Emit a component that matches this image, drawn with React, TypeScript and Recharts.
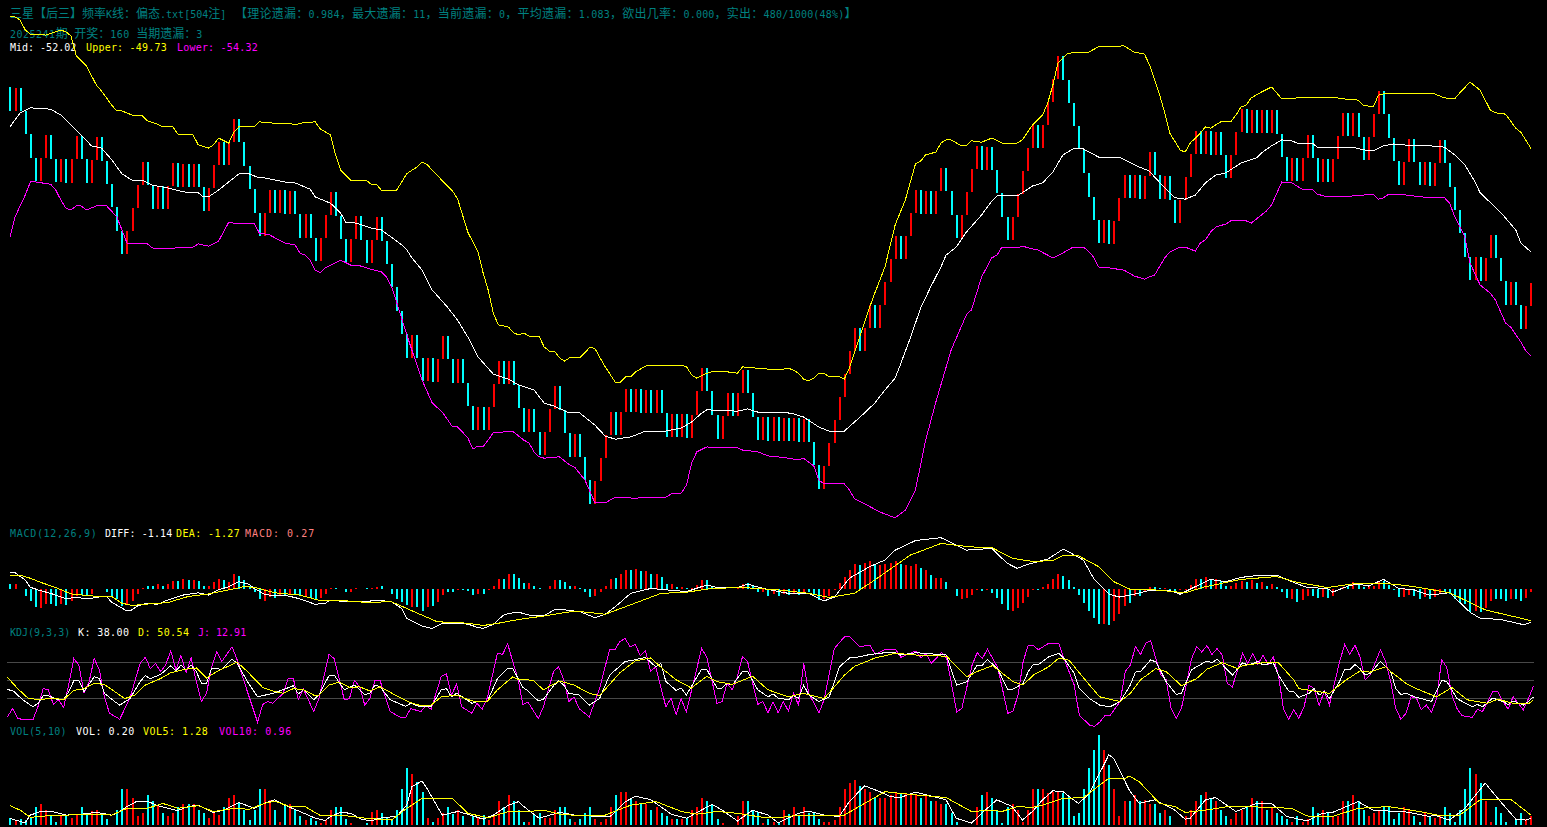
import React from "react";
import { ComposedChart, Bar, Line, Cell, XAxis, YAxis } from "recharts";

type Knot = [number, number];

const firstOpen = -48.37;
const closes = [
-48.89,-48.39,-48.89,-49.42,-49.93,-50.45,-49.95,-49.43,-49.96,-50.47,-49.96,-50.49,-49.96,-49.45,-49.97,-50.49,-49.98,-49.48,-50.01,-50.51,
-51.02,-51.55,-52.06,-51.55,-51.05,-50.54,-50.03,-50.54,-51.07,-50.56,-51.07,-50.56,-50.05,-50.58,-50.07,-50.58,-50.07,-50.58,-51.11,-50.60,
-50.09,-49.59,-50.09,-49.59,-49.08,-49.59,-50.12,-50.63,-51.16,-51.67,-51.16,-50.65,-51.16,-50.65,-51.18,-50.67,-51.18,-51.71,-51.18,-51.71,
-52.22,-51.71,-51.20,-50.69,-51.22,-51.73,-52.24,-51.73,-51.22,-51.75,-52.26,-51.75,-51.24,-51.78,-52.28,-52.79,-53.32,-53.83,-54.36,-53.85,
-54.36,-54.87,-54.36,-54.90,-54.39,-53.88,-54.39,-54.92,-54.39,-54.92,-55.43,-55.96,-55.45,-55.96,-55.45,-54.94,-54.43,-54.94,-54.43,-54.96,
-55.47,-56.00,-55.49,-56.00,-56.51,-56.00,-55.49,-54.98,-55.51,-56.02,-56.55,-56.05,-56.55,-57.06,-57.59,-57.08,-56.58,-56.07,-55.56,-56.07,
-55.56,-55.05,-55.56,-55.05,-55.58,-55.07,-55.58,-55.07,-55.58,-56.11,-55.60,-56.11,-55.60,-56.13,-55.62,-55.09,-54.59,-55.09,-55.62,-56.16,
-55.65,-55.14,-55.65,-55.14,-54.63,-55.14,-55.67,-56.18,-55.67,-56.20,-55.67,-56.20,-55.69,-56.20,-55.69,-56.22,-55.71,-56.22,-56.73,-57.26,
-56.75,-56.24,-55.74,-55.23,-54.72,-54.21,-53.70,-54.21,-53.70,-53.19,-53.70,-53.19,-52.68,-52.17,-51.67,-52.17,-51.67,-51.16,-50.65,-51.18,
-50.67,-51.18,-50.67,-50.16,-50.67,-51.20,-51.71,-51.20,-50.69,-50.18,-49.67,-50.21,-49.70,-50.21,-50.71,-51.24,-51.75,-51.24,-50.74,-50.23,
-49.72,-49.21,-49.72,-49.21,-48.70,-48.19,-47.68,-48.21,-48.72,-49.23,-49.74,-50.27,-50.80,-51.31,-51.82,-51.31,-51.84,-51.33,-50.82,-50.32,
-50.82,-50.32,-50.85,-50.34,-49.81,-50.32,-50.85,-50.34,-50.87,-51.38,-50.87,-50.36,-49.85,-49.34,-49.85,-49.34,-49.87,-49.37,-49.87,-50.38,
-49.87,-49.37,-48.86,-49.39,-48.88,-49.39,-48.88,-49.39,-48.88,-49.41,-49.92,-50.45,-49.94,-50.45,-49.94,-49.43,-49.94,-50.47,-49.96,-50.47,
-49.96,-49.45,-48.94,-49.45,-48.94,-49.48,-49.98,-49.48,-48.97,-48.46,-48.97,-49.50,-50.01,-50.54,-50.03,-49.52,-50.03,-50.54,-50.03,-50.56,
-50.05,-49.54,-50.05,-50.58,-51.09,-51.60,-52.13,-52.64,-52.13,-52.66,-52.15,-51.64,-52.15,-52.66,-53.19,-52.68,-53.19,-53.72,-53.21,-52.71,
];

const upperKnots: Knot[] = [[0,-46.8],[1,-46.82],[2,-46.89],[3,-47.11],[4,-47.2],[7,-47.22],[9,-47.15],[10,-47.11],[11,-47.15],[12,-47.24],[13,-47.68],[15,-47.9],[17,-48.33],[18,-48.46],[20,-48.77],[21,-48.9],[22,-48.9],[24,-48.99],[26,-49.01],[27,-49.12],[29,-49.19],[30,-49.25],[32,-49.25],[33,-49.41],[36,-49.43],[37,-49.65],[39,-49.72],[40,-49.65],[41,-49.5],[43,-49.61],[44,-49.37],[45,-49.25],[48,-49.25],[49,-49.14],[52,-49.17],[55,-49.17],[56,-49.21],[57,-49.17],[60,-49.14],[61,-49.3],[63,-49.43],[64,-49.87],[65,-50.21],[67,-50.43],[70,-50.43],[71,-50.52],[72,-50.52],[73,-50.65],[75,-50.67],[76,-50.65],[77,-50.47],[78,-50.29],[79,-50.21],[80,-50.14],[81,-50.03],[82,-50.09],[84,-50.32],[85,-50.45],[87,-50.67],[88,-50.85],[90,-51.58],[92,-52.02],[93,-52.48],[94,-52.86],[95,-53.37],[96,-53.63],[98,-53.68],[99,-53.81],[100,-53.85],[101,-53.81],[102,-53.88],[104,-53.88],[105,-54.12],[106,-54.21],[107,-54.21],[108,-54.36],[109,-54.43],[110,-54.36],[112,-54.36],[113,-54.25],[114,-54.12],[115,-54.16],[116,-54.36],[117,-54.56],[119,-54.9],[120,-54.9],[121,-54.78],[122,-54.78],[123,-54.67],[125,-54.54],[127,-54.54],[129,-54.54],[132,-54.52],[133,-54.56],[134,-54.74],[135,-54.81],[137,-54.7],[138,-54.67],[141,-54.67],[143,-54.7],[144,-54.56],[147,-54.59],[149,-54.61],[152,-54.61],[153,-54.59],[154,-54.63],[155,-54.7],[156,-54.83],[157,-54.87],[158,-54.81],[159,-54.7],[160,-54.7],[161,-54.78],[163,-54.78],[164,-54.83],[165,-54.59],[167,-53.9],[169,-53.24],[170,-52.93],[172,-52.35],[174,-51.42],[176,-50.87],[178,-50.07],[179,-50.01],[180,-49.87],[182,-49.81],[183,-49.61],[184,-49.54],[185,-49.54],[187,-49.67],[188,-49.67],[189,-49.56],[191,-49.59],[193,-49.5],[195,-49.61],[198,-49.61],[199,-49.54],[201,-49.21],[203,-48.99],[204,-48.72],[205,-48.33],[206,-47.84],[208,-47.62],[212,-47.6],[214,-47.48],[219,-47.46],[221,-47.6],[223,-47.64],[224,-47.88],[225,-48.21],[226,-48.55],[227,-48.94],[228,-49.39],[230,-49.76],[231,-49.81],[232,-49.61],[234,-49.39],[235,-49.25],[236,-49.28],[238,-49.14],[240,-49.14],[241,-48.99],[242,-48.81],[243,-48.77],[244,-48.61],[246,-48.48],[248,-48.37],[250,-48.63],[252,-48.63],[253,-48.61],[261,-48.61],[262,-48.63],[265,-48.66],[266,-48.77],[268,-48.81],[269,-48.55],[270,-48.52],[278,-48.52],[280,-48.52],[282,-48.61],[284,-48.63],[285,-48.5],[287,-48.26],[289,-48.44],[291,-48.88],[292,-48.94],[294,-48.97],[296,-49.28],[297,-49.37],[299,-49.73]];

const midKnots: Knot[] = [[0,-49.25],[2,-48.94],[4,-48.83],[8,-48.86],[10,-48.99],[14,-49.43],[16,-49.67],[18,-49.72],[20,-49.98],[22,-50.29],[24,-50.43],[26,-50.43],[28,-50.54],[31,-50.6],[34,-50.69],[37,-50.71],[38,-50.8],[39,-50.8],[41,-50.65],[44,-50.38],[45,-50.29],[47,-50.29],[49,-50.38],[50,-50.38],[54,-50.47],[56,-50.49],[59,-50.63],[60,-50.8],[63,-50.94],[65,-51.16],[66,-51.36],[68,-51.38],[71,-51.49],[73,-51.53],[77,-51.86],[78,-51.97],[79,-52.15],[81,-52.42],[83,-52.86],[86,-53.24],[88,-53.53],[90,-53.9],[92,-54.34],[95,-54.72],[98,-54.83],[100,-54.96],[103,-55.07],[105,-55.36],[107,-55.43],[110,-55.58],[112,-55.58],[115,-55.85],[117,-56.09],[119,-56.16],[122,-56.11],[125,-55.98],[129,-55.98],[132,-55.91],[134,-55.78],[136,-55.58],[137,-55.51],[143,-55.54],[145,-55.49],[147,-55.56],[152,-55.56],[154,-55.6],[156,-55.67],[159,-55.89],[161,-55.98],[164,-55.98],[166,-55.78],[168,-55.58],[170,-55.36],[172,-55.07],[174,-54.81],[175,-54.52],[177,-53.92],[179,-53.26],[181,-52.79],[183,-52.35],[184,-52.09],[186,-51.91],[188,-51.58],[191,-51.2],[193,-50.89],[194,-50.78],[198,-50.78],[201,-50.56],[203,-50.49],[205,-50.25],[207,-49.87],[209,-49.74],[211,-49.74],[214,-49.92],[218,-49.92],[222,-50.14],[224,-50.23],[225,-50.36],[227,-50.6],[229,-50.82],[231,-50.85],[233,-50.76],[235,-50.49],[237,-50.32],[239,-50.27],[242,-50.05],[245,-49.94],[246,-49.83],[248,-49.67],[250,-49.54],[252,-49.56],[253,-49.61],[256,-49.61],[257,-49.7],[259,-49.7],[264,-49.7],[266,-49.76],[268,-49.78],[270,-49.67],[272,-49.63],[276,-49.67],[279,-49.67],[282,-49.7],[284,-49.87],[286,-50.09],[288,-50.47],[289,-50.71],[293,-51.14],[296,-51.53],[297,-51.82],[299,-52.02]];

const lowerKnots: Knot[] = [[0,-51.69],[1,-51.24],[3,-50.76],[4,-50.47],[5,-50.47],[8,-50.52],[9,-50.65],[10,-50.87],[11,-51.05],[12,-51.09],[13,-51.0],[14,-51.0],[15,-51.09],[17,-51.0],[19,-51.0],[21,-51.24],[22,-51.53],[23,-51.82],[26,-51.84],[27,-51.84],[28,-51.93],[31,-51.95],[32,-51.95],[33,-51.91],[36,-51.91],[37,-51.84],[39,-51.89],[41,-51.78],[43,-51.36],[44,-51.38],[48,-51.38],[49,-51.6],[51,-51.64],[54,-51.82],[56,-51.86],[57,-52.04],[58,-52.09],[59,-52.2],[60,-52.42],[61,-52.48],[62,-52.37],[63,-52.31],[65,-52.2],[67,-52.31],[69,-52.33],[70,-52.37],[73,-52.46],[74,-52.57],[75,-52.79],[76,-53.13],[78,-53.85],[79,-54.19],[81,-54.85],[83,-55.36],[85,-55.56],[87,-55.89],[88,-55.89],[90,-56.13],[91,-56.38],[92,-56.31],[93,-56.33],[95,-56.02],[97,-56.0],[99,-56.0],[101,-56.18],[102,-56.24],[103,-56.44],[104,-56.55],[105,-56.58],[108,-56.55],[110,-56.73],[111,-56.78],[113,-57.06],[115,-57.57],[117,-57.57],[119,-57.44],[121,-57.44],[123,-57.48],[124,-57.44],[129,-57.44],[130,-57.37],[132,-57.35],[133,-57.17],[134,-56.69],[135,-56.44],[137,-56.33],[138,-56.35],[143,-56.35],[144,-56.4],[147,-56.44],[149,-56.53],[151,-56.55],[153,-56.58],[155,-56.62],[156,-56.58],[158,-56.75],[159,-57.06],[160,-57.15],[164,-57.15],[165,-57.28],[166,-57.48],[167,-57.53],[168,-57.59],[171,-57.77],[174,-57.9],[176,-57.73],[178,-57.28],[180,-56.18],[182,-55.34],[185,-54.19],[188,-53.41],[189,-53.3],[191,-52.57],[193,-52.15],[194,-52.09],[195,-51.91],[196,-51.93],[198,-51.93],[199,-51.89],[201,-51.95],[202,-51.97],[205,-52.15],[207,-52.04],[209,-51.91],[211,-51.91],[212,-52.0],[213,-52.13],[214,-52.35],[216,-52.37],[219,-52.42],[221,-52.55],[223,-52.62],[224,-52.57],[225,-52.53],[227,-52.15],[228,-52.02],[230,-51.91],[231,-51.91],[233,-52.0],[234,-51.82],[235,-51.75],[236,-51.58],[237,-51.47],[239,-51.4],[240,-51.33],[243,-51.33],[244,-51.38],[246,-51.2],[247,-51.11],[248,-50.98],[250,-50.47],[252,-50.49],[254,-50.63],[256,-50.63],[257,-50.74],[259,-50.8],[264,-50.78],[268,-50.74],[269,-50.85],[270,-50.82],[271,-50.74],[273,-50.74],[276,-50.78],[279,-50.82],[282,-50.82],[283,-50.94],[284,-51.24],[286,-51.69],[287,-52.26],[289,-52.75],[291,-52.93],[292,-53.08],[294,-53.59],[295,-53.68],[297,-54.01],[298,-54.21],[299,-54.32]];

const macdHist = [
.16,.16,0,-.23,-.4,-.61,-.66,-.52,-.52,-.57,-.52,-.55,-.4,-.23,-.21,-.21,-.17,0,0,-.11,
-.23,-.34,-.57,-.52,-.4,-.17,.05,.09,.11,.16,.11,.16,.28,.28,.34,.32,.32,.28,.11,.09,
.23,.34,.32,.25,.52,.44,.32,.11,-.11,-.34,-.4,-.29,-.32,-.25,-.25,-.17,-.21,-.25,-.29,-.32,
-.34,-.32,-.17,.03,.03,0,-.09,-.09,.02,0,.02,.05,.08,.09,0,-.17,-.34,-.44,-.55,-.63,
-.63,-.75,-.63,-.6,-.46,-.21,-.11,-.09,-.03,-.03,-.06,-.21,-.17,-.17,-.05,.09,.34,.34,.51,.51,
.38,.21,.21,.11,.03,0,.09,.3,.3,.23,.11,.09,.03,-.09,-.28,-.23,-.09,.09,.34,.38,
.52,.66,.66,.69,.62,.62,.52,.52,.41,.17,.17,.07,.06,.02,.03,.14,.31,.31,.09,0,
0,0,0,.05,.17,.21,.11,-.09,-.11,-.23,-.16,-.23,-.17,-.21,-.17,-.21,-.09,-.09,-.17,-.38,
-.34,-.23,-.03,.21,.41,.66,.86,.83,.9,.97,.83,.83,.86,.9,.97,.86,.84,.8,.86,.72,
.66,.48,.38,.38,.24,0,-.23,-.34,-.32,-.2,-.03,-.07,-.03,-.14,-.32,-.52,-.72,-.76,-.66,-.48,
-.28,-.03,-.02,.06,.18,.34,.52,.46,.31,.06,-.21,-.48,-.76,-1.01,-1.21,-1.21,-1.24,-1.1,-.86,-.59,
-.48,-.25,-.23,-.09,.07,.07,.03,.02,-.06,-.11,-.03,-.03,.14,.34,.34,.41,.34,.34,.28,.09,
.09,.21,.29,.25,.32,.21,.23,.11,.16,.06,-.09,-.32,-.34,-.44,-.38,-.25,-.25,-.31,-.28,-.3,
-.23,0,.06,.09,.23,.14,.06,.09,.11,.29,.29,.14,-.02,-.28,-.28,-.21,-.23,-.34,-.28,-.34,
-.28,-.17,-.09,-.17,-.34,-.48,-.52,-.8,-.76,-.8,-.66,-.41,-.34,-.34,-.41,-.34,-.34,-.41,-.31,-.09,
];

const diffKnots: Knot[] = [[0,.57],[1,.56],[3,.31],[4,.06],[6,-.06],[8,-.15],[11,-.34],[13,-.28],[15,-.34],[16,-.32],[18,-.26],[19,-.26],[20,-.46],[23,-.76],[24,-.72],[25,-.59],[27,-.49],[29,-.53],[31,-.38],[34,-.21],[37,-.13],[39,-.21],[41,-.03],[43,.08],[45,.25],[47,.16],[48,.02],[50,-.18],[52,-.24],[54,-.21],[57,-.34],[60,-.53],[62,-.49],[63,-.38],[66,-.44],[70,-.44],[72,-.38],[75,-.44],[77,-.67],[78,-1.01],[81,-1.28],[83,-1.36],[85,-1.18],[90,-1.21],[92,-1.33],[93,-1.36],[95,-1.22],[97,-.9],[98,-.84],[100,-.8],[102,-.9],[105,-.92],[107,-.72],[109,-.72],[112,-.78],[115,-.99],[117,-.87],[119,-.61],[122,-.15],[126,.02],[129,-.03],[133,-.09],[137,.14],[139,.05],[143,.05],[145,.17],[148,.02],[153,-.15],[157,-.15],[160,-.41],[162,-.29],[165,.37],[169,.77],[172,1.0],[174,1.34],[178,1.67],[183,1.77],[188,1.34],[193,1.4],[196,.89],[198,.71],[200,.85],[204,1.03],[207,1.37],[208,1.29],[211,1.0],[213,.37],[216,-.17],[218,-.28],[221,-.18],[224,-.05],[228,-.05],[230,-.18],[233,.08],[236,.33],[239,.25],[242,.40],[246,.48],[249,.48],[252,.25],[255,.05],[259,.02],[260,-.11],[263,.10],[265,.17],[267,.10],[270,.33],[273,.02],[276,-.03],[279,-.21],[283,-.13],[287,-.80],[289,-1.01],[293,-1.05],[297,-1.21],[298,-1.21],[299,-1.14]];

const deaKnots: Knot[] = [[0,.48],[2,.48],[4,.37],[6,.23],[9,.05],[12,-.17],[16,-.24],[20,-.26],[22,-.49],[24,-.57],[27,-.52],[31,-.47],[35,-.26],[39,-.17],[43,-.03],[46,.08],[48,.06],[52,-.13],[57,-.21],[61,-.40],[66,-.41],[70,-.46],[75,-.44],[79,-.75],[84,-1.13],[90,-1.18],[93,-1.26],[96,-1.18],[100,-1.05],[105,-.93],[111,-.76],[117,-.87],[121,-.61],[128,-.15],[133,-.11],[138,.02],[144,.05],[151,-.03],[157,-.15],[161,-.29],[166,-.15],[170,.31],[177,1.17],[183,1.57],[189,1.45],[193,1.43],[197,1.06],[201,.95],[205,.98],[207,1.15],[210,1.15],[214,.77],[217,.25],[220,0],[225,-.03],[231,-.13],[235,.08],[242,.33],[249,.43],[253,.23],[259,.05],[265,.20],[272,.17],[276,.08],[283,-.13],[290,-.72],[298,-1.05],[299,-1.09]];

const kKnots: Knot[] = [[0,34],[1,33],[3,17],[5,5],[6,11],[7,24],[8,24],[10,17],[11,17],[12,31],[13,49],[14,49],[15,31],[17,56],[18,53],[19,28],[21,14],[22,8],[24,19],[26,48],[27,58],[28,53],[30,60],[32,75],[33,66],[34,76],[35,68],[36,76],[37,65],[38,45],[39,45],[40,70],[42,69],[44,86],[45,79],[47,48],[49,22],[52,28],[54,34],[56,41],[57,27],[58,34],[60,17],[61,25],[63,58],[64,59],[66,34],[68,42],[70,26],[71,28],[72,42],[73,39],[75,17],[78,6],[79,11],[81,5],[83,5],[85,34],[86,36],[87,22],[88,28],[90,17],[91,11],[92,14],[94,14],[96,53],[98,70],[99,70],[101,38],[102,32],[104,15],[105,18],[107,41],[108,49],[109,42],[110,28],[112,25],[114,8],[116,19],[118,59],[121,82],[123,85],[125,89],[127,73],[128,79],[129,48],[131,33],[132,37],[133,25],[136,69],[137,69],[139,37],[140,37],[141,45],[142,42],[144,65],[145,65],[147,34],[149,22],[150,27],[151,20],[153,17],[154,24],[155,20],[156,42],[157,25],[159,14],[161,22],[163,73],[165,88],[167,90],[169,94],[172,97],[174,97],[175,93],[178,97],[184,93],[185,65],[186,42],[188,48],[190,76],[191,76],[192,85],[194,70],[196,34],[197,35],[199,45],[200,65],[201,77],[202,77],[204,90],[206,96],[207,87],[209,62],[210,36],[212,19],[214,8],[216,5],[218,14],[220,42],[221,64],[222,65],[224,85],[225,81],[226,65],[227,48],[229,26],[230,28],[232,68],[233,73],[235,83],[236,80],[237,86],[239,68],[240,59],[242,80],[243,76],[245,82],[246,76],[248,80],[249,59],[251,32],[252,31],[253,21],[255,28],[256,36],[257,25],[258,31],[259,19],[261,48],[262,69],[263,68],[264,77],[265,70],[266,59],[267,62],[269,82],[271,65],[272,36],[273,26],[274,28],[276,21],[277,19],[279,14],[281,50],[282,48],[284,19],[287,5],[288,9],[289,5],[291,20],[293,14],[294,9],[295,15],[297,8],[298,14],[299,22]];

const dKnots: Knot[] = [[0,55],[2,36],[4,20],[6,17],[9,20],[11,17],[13,33],[15,36],[17,45],[19,43],[21,31],[23,19],[25,25],[27,42],[30,53],[32,63],[35,69],[37,71],[39,54],[41,65],[43,73],[45,81],[47,65],[50,38],[52,32],[54,28],[56,36],[58,34],[60,25],[61,25],[63,42],[65,47],[67,38],[69,39],[71,32],[73,39],[76,25],[79,12],[81,7],[83,8],[85,22],[88,25],[91,15],[94,14],[96,34],[99,56],[100,52],[103,50],[105,34],[108,48],[109,47],[111,42],[114,28],[116,24],[120,63],[123,83],[126,88],[129,65],[131,51],[134,37],[137,57],[139,48],[142,43],[146,57],[149,34],[153,22],[156,28],[160,19],[164,59],[166,74],[170,88],[174,96],[178,93],[184,91],[186,73],[188,56],[190,65],[193,75],[197,48],[199,42],[201,59],[204,73],[206,88],[208,84],[212,42],[214,22],[218,14],[220,28],[222,51],[225,70],[227,65],[230,41],[233,53],[235,69],[238,80],[241,70],[242,75],[246,80],[249,80],[252,51],[253,36],[256,32],[259,28],[262,49],[265,66],[267,64],[270,73],[271,65],[274,45],[276,36],[280,22],[283,38],[286,17],[290,11],[292,18],[295,11],[298,10],[299,17]];

const jKnots: Knot[] = [[0,-12],[1,2],[2,-14],[3,-17],[5,-17],[6,6],[7,36],[8,34],[9,9],[10,17],[11,4],[12,42],[13,87],[14,76],[15,28],[16,48],[17,87],[18,68],[19,22],[20,-6],[22,-16],[24,20],[26,79],[27,89],[28,70],[29,79],[30,65],[31,76],[32,100],[33,68],[34,92],[35,63],[36,88],[37,48],[38,14],[39,28],[40,73],[41,99],[42,82],[44,107],[45,85],[47,31],[49,-21],[50,9],[51,14],[52,11],[54,28],[55,53],[56,53],[57,18],[58,35],[60,-3],[61,19],[63,94],[64,87],[66,17],[67,19],[68,50],[69,39],[70,8],[71,19],[72,50],[73,50],[74,22],[75,-3],[77,-13],[78,-13],[79,2],[81,-3],[82,7],[83,1],[85,57],[86,61],[87,25],[88,44],[89,5],[91,-6],[92,11],[93,1],[94,20],[96,96],[97,94],[98,112],[99,82],[100,53],[101,9],[102,13],[104,-15],[105,5],[107,65],[108,73],[109,51],[110,14],[111,22],[112,2],[114,-12],[116,36],[118,103],[119,102],[120,116],[121,121],[122,107],[123,111],[124,92],[125,100],[126,65],[127,73],[129,5],[130,20],[131,-8],[132,19],[133,-4],[136,104],[137,90],[139,11],[140,14],[141,45],[142,34],[143,56],[144,90],[145,82],[147,9],[148,14],[149,-5],[150,13],[151,-5],[152,14],[153,-2],[154,28],[155,8],[156,79],[157,28],[159,-5],[160,17],[162,104],[164,124],[165,124],[167,107],[169,110],[170,94],[172,103],[174,103],[175,89],[178,100],[179,88],[180,96],[181,79],[183,97],[184,88],[186,-4],[187,3],[189,76],[190,97],[191,87],[192,103],[194,72],[196,-6],[197,-2],[198,25],[199,82],[200,110],[201,109],[202,102],[204,113],[206,112],[207,87],[209,42],[210,-9],[212,-26],[213,-28],[214,-21],[215,-10],[216,-10],[218,14],[219,65],[220,76],[221,107],[222,94],[223,113],[224,117],[225,87],[226,59],[227,51],[228,2],[229,-15],[230,2],[232,87],[233,107],[234,98],[235,109],[236,94],[237,104],[238,93],[239,45],[240,39],[242,96],[243,79],[244,96],[245,77],[246,93],[247,77],[248,90],[249,59],[250,2],[251,-16],[252,0],[253,-14],[254,4],[255,42],[256,36],[257,7],[258,32],[259,8],[261,82],[262,111],[263,94],[264,110],[265,90],[266,51],[267,59],[269,102],[270,82],[271,48],[272,2],[273,-16],[274,-6],[275,22],[276,21],[277,0],[278,8],[279,-4],[280,19],[281,85],[282,72],[283,25],[284,2],[285,-10],[287,-13],[288,1],[289,-3],[291,31],[292,31],[293,14],[294,1],[295,22],[296,11],[297,0],[298,19],[299,41]];

const volume = [
.15,.11,.13,.11,.15,.39,.47,.33,.19,.07,.22,.21,.16,.24,.39,.24,.31,.33,.24,.13,
0,.33,.8,.8,.59,.19,.26,.67,.53,.44,.26,.19,.26,.39,.46,.46,.46,.33,.26,.15,
.3,.22,.41,.59,.67,.5,.33,.11,.33,.8,.8,.56,.33,.07,.44,.46,.33,.19,.11,.15,
.09,.04,.11,.33,.39,.39,.13,.04,0,0,.04,.28,.33,.26,.15,.11,.33,.8,1.26,1.13,
.96,.74,.15,.06,.15,.26,.39,.24,.33,.19,0,.19,.15,.22,.11,.19,.53,.41,.67,.53,
.33,.07,.07,.22,.26,.15,.16,.33,.39,.39,.13,.07,.13,.26,.39,.13,.07,.13,.39,.67,
.73,.73,.59,.53,.46,.46,.33,.39,.26,.19,.13,.13,.13,.15,.33,.39,.59,.53,.46,.13,
.04,0,0,.19,.53,.53,.33,.28,.05,.13,.07,.05,.33,.24,.39,.19,.39,.26,.26,.13,
.07,.06,.11,.39,.8,.94,1,.87,.8,.74,.61,.59,.61,.67,.74,.72,.7,.7,.68,.61,
.67,.53,.53,.47,.46,.26,.07,0,0,0,.39,.67,.73,.59,.33,.05,.41,.46,.33,.07,
.33,.8,.8,.8,.7,.74,.74,.72,.63,.2,.26,.8,1.26,1.67,2,1.67,1.33,.8,.2,.53,
.53,.67,.53,.56,.47,.47,.26,.33,.2,0,0,.2,.33,.53,.67,.73,.59,.53,.33,.2,
.13,.26,.33,.4,.59,.53,.53,.33,.4,.26,.2,.13,.06,.2,.07,.13,.4,.26,.33,.26,
.19,.2,.53,.53,.67,.53,.33,.2,.27,.33,.4,.4,.13,.26,.4,.33,.2,.06,.26,.2,
.15,.22,.4,.26,.06,.33,.8,1.26,1.13,.93,.53,.06,.4,.26,.06,0,.13,.26,.13,.2,
];

const vol5Knots: Knot[] = [[0,.15],[1,.11],[3,.05],[4,.22],[6,.3],[8,.31],[11,.22],[14,.24],[17,.28],[20,.22],[21,.26],[23,.41],[25,.53],[27,.53],[29,.43],[33,.32],[35,.41],[37,.44],[39,.33],[40,.28],[42,.33],[45,.5],[48,.37],[50,.48],[52,.56],[54,.44],[57,.3],[60,.15],[62,.1],[63,.19],[65,.28],[67,.26],[69,.13],[71,.09],[73,.16],[76,.19],[78,.44],[79,.85],[81,.98],[82,.81],[84,.41],[85,.22],[88,.3],[90,.24],[93,.13],[95,.22],[98,.44],[100,.52],[101,.41],[104,.15],[108,.28],[111,.22],[114,.2],[118,.19],[121,.52],[123,.64],[126,.56],[130,.24],[133,.15],[138,.46],[140,.33],[143,.09],[146,.33],[149,.22],[151,.05],[155,.26],[157,.31],[160,.22],[163,.19],[165,.52],[168,.87],[171,.74],[173,.63],[175,.61],[178,.73],[184,.56],[186,.15],[189,.04],[191,.26],[194,.56],[197,.41],[199,.11],[201,.3],[203,.56],[205,.76],[207,.74],[210,.48],[212,.67],[215,1.33],[216,1.56],[217,1.48],[220,.78],[222,.48],[225,.56],[229,.33],[231,.13],[232,.15],[235,.56],[237,.61],[241,.3],[245,.48],[248,.48],[251,.19],[255,.09],[258,.26],[260,.28],[265,.52],[268,.33],[271,.31],[274,.3],[279,.19],[280,.22],[283,.11],[286,.37],[290,.93],[293,.52],[296,.13],[298,.11],[299,.15]];

const vol10Knots: Knot[] = [[0,.43],[2,.33],[4,.17],[7,.2],[11,.22],[17,.24],[20,.22],[23,.37],[27,.37],[30,.48],[33,.37],[37,.43],[40,.3],[44,.37],[47,.35],[50,.48],[52,.53],[55,.41],[58,.41],[61,.21],[65,.22],[70,.15],[75,.11],[78,.37],[81,.59],[87,.59],[90,.26],[94,.16],[98,.3],[102,.3],[105,.33],[108,.24],[113,.2],[117,.22],[122,.44],[127,.52],[132,.3],[135,.24],[139,.3],[143,.26],[148,.17],[151,.16],[155,.22],[164,.22],[168,.48],[172,.74],[177,.68],[184,.61],[189,.3],[193,.33],[195,.3],[198,.41],[201,.39],[203,.44],[207,.59],[211,.61],[213,.78],[216,1.04],[219,1.02],[220,1.09],[222,.96],[226,.48],[229,.41],[231,.28],[235,.33],[240,.42],[248,.39],[252,.37],[255,.2],[260,.19],[265,.37],[271,.41],[277,.3],[281,.21],[285,.22],[289,.56],[295,.57],[299,.22]];

const kdjGuides = [80, 50, 20];

const limit = (m: Map<number, number>, i: number) => (m.has(i) ? (m.get(i) as number) : null);
const mapUpper = new Map(upperKnots), mapMid = new Map(midKnots), mapLower = new Map(lowerKnots);
const mapDiff = new Map(diffKnots), mapDea = new Map(deaKnots);
const mapK = new Map(kKnots), mapD = new Map(dKnots), mapJ = new Map(jKnots);
const mapV5 = new Map(vol5Knots), mapV10 = new Map(vol10Knots);

const table = closes.map((close, i) => {
  const open = i === 0 ? firstOpen : closes[i - 1];
  return {
    i,
    open,
    close,
    candle: [Math.min(open, close), Math.max(open, close)],
    hist: macdHist[i],
    vol: volume[i],
    upper: limit(mapUpper, i),
    mid: limit(mapMid, i),
    lower: limit(mapLower, i),
    diff: limit(mapDiff, i),
    dea: limit(mapDea, i),
    k: limit(mapK, i),
    d: limit(mapD, i),
    j: limit(mapJ, i),
    v5: limit(mapV5, i),
    v10: limit(mapV10, i),
    g0: kdjGuides[0],
    g1: kdjGuides[1],
    g2: kdjGuides[2],
  };
});

const RED = "#ff0000";
const CYAN = "#00ffff";
const WHITE = "#ffffff";
const YELLOW = "#ffff00";
const MAGENTA = "#ff00ff";
const TEAL = "#008080";
const SALMON = "#ff8080";
const GUIDE = "#484848";

const fills = table.map((r) => (r.close > r.open ? RED : CYAN));
const cells = () => fills.map((f, i) => <Cell key={i} fill={f} />);

const MARGIN_LEFT = 7.46;
const MARGIN_RIGHT = 13.44;

const series = (key: string, color: string) => (
  <Line
    key={key}
    dataKey={key}
    stroke={color}
    strokeWidth={1}
    dot={false}
    activeDot={false}
    connectNulls
    type="linear"
    isAnimationActive={false}
    legendType="none"
  />
);

const Panel = ({ top, height, bottom = 0, domain, children }: any) => (
  <div style={{ position: "absolute", left: 0, top, width: 1547, height }}>
    <ComposedChart
      width={1547}
      height={height}
      data={table}
      margin={{ top: 0, right: MARGIN_RIGHT, bottom, left: MARGIN_LEFT }}
    >
      <XAxis dataKey="i" hide />
      <YAxis hide type="number" domain={domain} />
      {children}
    </ComposedChart>
  </div>
);

type LabelSpec = { x: number; cy: number; color: string; text: string; ls?: number; cjkLs?: number };

const Label = ({ x, cy, color, text, ls = 0, cjkLs = 0 }: LabelSpec) => {
  const parts = text.split(/([\u3000-\u9fff\uff00-\uffef]+)/).filter(Boolean);
  return (
    <div
      style={{
        position: "absolute",
        left: x,
        top: cy - 8,
        height: 16,
        lineHeight: "16px",
        color,
        whiteSpace: "pre",
      }}
    >
      {parts.map((p, n) =>
        /[\u3000-\u9fff\uff00-\uffef]/.test(p) ? (
          <span key={n} style={{ fontFamily: "'Noto Sans CJK SC'", fontSize: 12, letterSpacing: cjkLs }}>{p}</span>
        ) : (
          <span key={n} style={{ fontFamily: "'DejaVu Sans Mono'", fontSize: 10, letterSpacing: ls }}>{p}</span>
        )
      )}
    </div>
  );
};

const labels: LabelSpec[] = [
  { x: 10, cy: 13, color: TEAL, text: "三星【后三】频率K线：偏态.txt[504注]" },
  { x: 235, cy: 13, color: TEAL, text: "【理论遗漏：0.984，最大遗漏：11，当前遗漏：0，平均遗漏：1.083，欲出几率：0.000，实出：480/1000(48%)】", ls: 0.2, cjkLs: 0.25 },
  { x: 10, cy: 33, color: TEAL, text: "2025241期 开奖：160 当期遗漏：3", ls: 0.5 },
  { x: 10, cy: 46, color: WHITE, text: "Mid: -52.02" },
  { x: 86, cy: 46, color: YELLOW, text: "Upper: -49.73", ls: 0.2 },
  { x: 177, cy: 46, color: MAGENTA, text: "Lower: -54.32", ls: 0.2 },
  { x: 10, cy: 532, color: TEAL, text: "MACD(12,26,9)", ls: 0.7 },
  { x: 105, cy: 532, color: WHITE, text: "DIFF: -1.14", ls: 0.1 },
  { x: 176, cy: 532, color: YELLOW, text: "DEA: -1.27", ls: 0.4 },
  { x: 245, cy: 532, color: SALMON, text: "MACD: 0.27", ls: 1 },
  { x: 10, cy: 631, color: TEAL, text: "KDJ(9,3,3)" },
  { x: 78, cy: 631, color: WHITE, text: "K: 38.00", ls: 0.4 },
  { x: 138, cy: 631, color: YELLOW, text: "D: 50.54", ls: 0.4 },
  { x: 198, cy: 631, color: MAGENTA, text: "J: 12.91" },
  { x: 10, cy: 730, color: TEAL, text: "VOL(5,10)", ls: 0.3 },
  { x: 76, cy: 730, color: WHITE, text: "VOL: 0.20", ls: 0.5 },
  { x: 143, cy: 730, color: YELLOW, text: "VOL5: 1.28", ls: 0.5 },
  { x: 219, cy: 730, color: MAGENTA, text: "VOL10: 0.96", ls: 0.6 },
];

export default function App() {
  return (
    <div
      style={{
        position: "absolute",
        left: 0,
        top: 0,
        width: 1547,
        height: 827,
        background: "#000",
        overflow: "hidden",
        shapeRendering: "crispEdges",
      }}
    >
      {labels.map((l) => (
        <Label key={l.text} {...l} />
      ))}
      <Panel top={0} height={525} domain={[-58.058, -46.445]}>
        <Bar dataKey="candle" barSize={2} isAnimationActive={false}>
          {cells()}
        </Bar>
        {series("upper", YELLOW)}
        {series("lower", MAGENTA)}
        {series("mid", WHITE)}
      </Panel>
      <Panel top={525} height={115} domain={[-1.759, 2.207]}>
        <Bar dataKey="hist" barSize={2} isAnimationActive={false}>
          {cells()}
        </Bar>
        {series("diff", WHITE)}
        {series("dea", YELLOW)}
      </Panel>
      <Panel top={625} height={110} domain={[-42.8, 144]}>
        {series("g0", GUIDE)}
        {series("g1", GUIDE)}
        {series("g2", GUIDE)}
        {series("j", MAGENTA)}
        {series("k", WHITE)}
        {series("d", YELLOW)}
      </Panel>
      <Panel top={725} height={102} bottom={2} domain={[0, 2.222]}>
        <Bar dataKey="vol" barSize={2} isAnimationActive={false}>
          {cells()}
        </Bar>
        {series("v5", WHITE)}
        {series("v10", YELLOW)}
      </Panel>
    </div>
  );
}
